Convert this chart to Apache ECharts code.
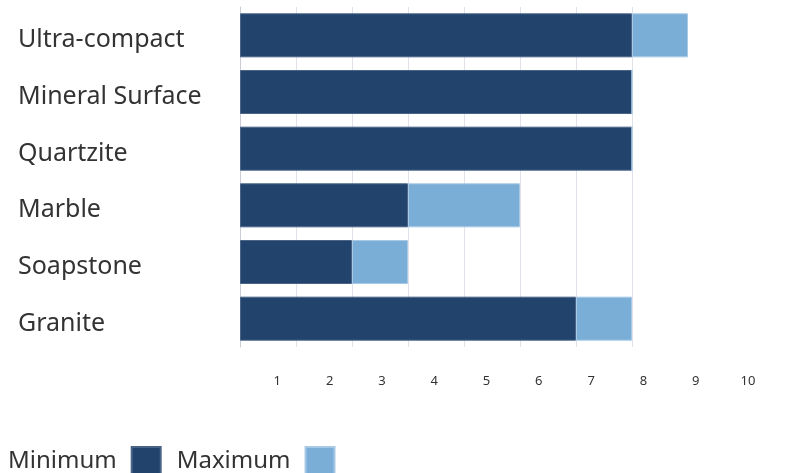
<!DOCTYPE html>
<html>
<head>
<meta charset="utf-8">
<script src="https://cdn.jsdelivr.net/npm/echarts@6/dist/echarts.min.js"></script>
<style>
  html, body { margin: 0; padding: 0; background: #fff; }
  #main { width: 788px; height: 473px; }
</style>
</head>
<body>
<div id="main"></div>
<script>
var categories = ['Ultra-compact', 'Mineral Surface', 'Quartzite', 'Marble', 'Soapstone', 'Granite'];
var minValues = [7, 7, 7, 3, 2, 6];
var maxValues = [8, 7, 7, 5, 3, 7];
var tickLabels = ['1', '2', '3', '4', '5', '6', '7', '8', '9', '10'];

var darkColor = '#22436c';
var lightColor = '#7aaed6';
var fontFamily = '"Noto Sans", sans-serif';

// stacked part = maximum - minimum
var extra = [];
for (var i = 0; i < minValues.length; i++) {
    extra.push(maxValues[i] - minValues[i]);
}

var myChart = echarts.init(document.getElementById('main'));
myChart.setOption({
    backgroundColor: '#fff',
    animation: false,
    legend: {
        left: 3,
        top: 441,
        align: 'right',
        icon: 'rect',
        itemWidth: 29,
        itemHeight: 29,
        itemGap: 15,
        textStyle: { fontSize: 24, color: '#333', fontFamily: fontFamily, padding: [0, 10, 0, 0] },
        data: ['Minimum', 'Maximum']
    },
    grid: [
        { left: 240, width: 448, top: 7, height: 340 },
        { left: 225, width: 523, top: 372, height: 1 }
    ],
    xAxis: [
        {
            type: 'value',
            min: 0,
            max: 8,
            interval: 1,
            axisLine: { show: false },
            axisTick: { show: false },
            axisLabel: { show: false },
            splitLine: { show: true, showMaxLine: false, lineStyle: { color: '#dfe2e8', width: 1 } }
        },
        {
            type: 'value',
            gridIndex: 1,
            min: 0,
            max: 10,
            interval: 1,
            axisLine: { show: false },
            axisTick: { show: false },
            splitLine: { show: false },
            axisLabel: {
                margin: 2,
                fontSize: 13,
                color: '#333',
                fontFamily: fontFamily,
                formatter: function (v) {
                    return v === 0 ? '' : tickLabels[v - 1];
                }
            }
        }
    ],
    yAxis: [
        {
            type: 'category',
            data: categories,
            inverse: true,
            axisLine: { show: true, lineStyle: { color: '#c8cdd6' } },
            axisTick: { show: false },
            axisLabel: {
                align: 'left',
                margin: 222,
                formatter: function (v) {
                    return '{a|' + v + '}';
                },
                rich: {
                    a: {
                        padding: [10, 0, 0, 0],
                        fontSize: 25,
                        color: '#333',
                        fontFamily: fontFamily
                    }
                }
            }
        },
        {
            type: 'value',
            gridIndex: 1,
            show: false
        }
    ],
    series: [
        {
            name: 'Minimum',
            type: 'bar',
            stack: 'total',
            barWidth: 44,
            data: minValues,
            itemStyle: { color: darkColor, borderColor: '#4a6488', borderWidth: 1 }
        },
        {
            name: 'Maximum',
            type: 'bar',
            stack: 'total',
            barWidth: 44,
            data: extra,
            itemStyle: { color: lightColor, borderColor: '#a8c9e6', borderWidth: 1 }
        }
    ]
});
</script>
</body>
</html>
